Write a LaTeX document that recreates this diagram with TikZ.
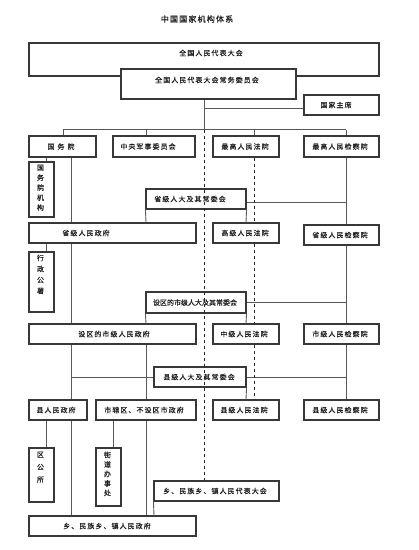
\documentclass[tikz,border=0pt]{standalone}
\usepackage{fontspec}
\newfontfamily\cjk[LetterSpace=15,FakeBold=0.3]{Noto Sans CJK SC}
\newfontfamily\cjkn[FakeBold=0.3]{Noto Sans CJK SC}
\newcommand\bx[5]{\node[box, minimum width={#4-#2}, minimum height={#5-#3}] (#1) at ({(#2+#4)/2},{(#3+#5)/2}) {};}
\begin{document}
\begin{tikzpicture}[x=1pt,y=-1pt,
  box/.style={draw=black!78, line width=1.1pt, inner sep=0pt, fill=white},
  txt/.style={font=\cjk\fontsize{7}{10}\selectfont, text=black!88, inner sep=0pt},
  tn/.style={font=\cjkn\fontsize{7}{10}\selectfont, text=black!88, inner sep=0pt},
  vt/.style={font=\cjkn\fontsize{7}{#1}\selectfont, text=black!88, inner sep=0pt, align=center, anchor=north},
  ln/.style={draw=black!65, line width=0.9pt},
  dl/.style={draw=black!85, line width=0.8pt, dash pattern=on 3pt off 3pt}]
\fill[white] (0,0) rectangle (419,550);
\useasboundingbox (0,0) rectangle (419,550);
% boxes
\bx{npc}{29}{43}{379}{76}
\bx{sc}{121}{69}{296}{99}
\bx{pres}{304}{95}{379}{115}
\bx{gwy}{29}{136}{96}{157}
\bx{cmc}{113}{136}{195}{157}
\bx{spc}{213}{136}{279}{157}
\bx{spp}{304}{136}{379}{157}
\bx{gwyjg}{29}{162}{54}{217}
\bx{sjrd}{146}{189}{246}{209}
\bx{sjzf}{29}{223}{196}{243}
\bx{gjfy}{213}{223}{279}{243}
\bx{sjjc}{304}{225}{379}{245}
\bx{xzgs}{29}{252}{54}{312}
\bx{sqrd}{146}{292}{246}{313}
\bx{sqzf}{29}{324}{196}{344}
\bx{zjfy}{213}{324}{279}{344}
\bx{shjc}{304}{324}{379}{344}
\bx{xjrd}{154}{367}{246}{387}
\bx{xzf}{29}{400}{87}{420}
\bx{sxq}{96}{400}{196}{420}
\bx{xjfy}{213}{400}{279}{420}
\bx{xjjc}{304}{400}{379}{420}
\bx{qgs}{29}{448}{54}{502}
\bx{jdb}{96}{448}{121}{506}
\bx{xzrd}{154}{481}{279}{501}
\bx{xzzf}{29}{516}{196}{536}
% texts
\node[txt, font=\cjk\fontsize{8}{10}\selectfont] (title) at (197,19) {中国国家机构体系};
\node[txt] (npct) at (211,53) {全国人民代表大会};
\node[txt] (sct) at (207,80) {全国人民代表大会常务委员会};
\node[txt] (prest) at (336,105) {国家主席};
\node[txt] (gwyt) at (61,146.5) {国\hspace{3pt}务\hspace{3pt}院};
\node[txt] (cmct) at (148,146.5) {中央军事委员会};
\node[txt] (spct) at (245,146.5) {最高人民法院};
\node[txt] (sppt) at (340,146.5) {最高人民检察院};
\node[txt] (sjrdt) at (190,199) {省级人大及其常委会};
\node[txt] (sjzft) at (86,233) {省级人民政府};
\node[txt] (gjfyt) at (245,233) {高级人民法院};
\node[txt] (sjjct) at (340,235) {省级人民检察院};
\node[tn] (sqrdt) at (195,302.5) {设区的市级人大及其常委会};
\node[txt] (sqzft) at (114,334) {设区的市级人民政府};
\node[txt] (zjfyt) at (244,334) {中级人民法院};
\node[txt] (shjct) at (340,334) {市级人民检察院};
\node[txt] (xjrdt) at (199,377) {县级人大及其常委会};
\node[txt] (xzft) at (56,410) {县人民政府};
\node[txt] (sxqt) at (144,410) {市辖区、不设区市政府};
\node[txt] (xjfyt) at (244,410) {县级人民法院};
\node[txt] (xjjct) at (340,410) {县级人民检察院};
\node[txt] (xzrdt) at (215,491) {乡、民族乡、镇人民代表大会};
\node[txt] (xzzft) at (107,526) {乡、民族乡、镇人民政府};
\node[vt=10] (gwyjgt) at (40.5,164.5) {国\\务\\院\\机\\构};
\node[vt=11] (xzgst) at (40.5,254.5) {行\\政\\公\\署};
\node[vt=12.5] (qgst) at (40.5,451.5) {区\\公\\所};
\node[vt=9.5] (jdbt) at (107.5,451.5) {街\\道\\办\\事\\处};
% column / row coordinates
\coordinate (c46) at (46,0);
\coordinate (c63) at (63,0);
\coordinate (c71) at (71,0);
\coordinate (c113) at (113,0);
\coordinate (c146) at (146,0);
\coordinate (c154) at (154,0);
\coordinate (c204) at (204,0);
\coordinate (c246) at (246,0);
\coordinate (c254) at (254,0);
\coordinate (c346) at (346,0);
\coordinate (bar) at (0,129.5);
\coordinate (pl) at (0,108);
\coordinate (r1) at (0,202);
\coordinate (r2) at (0,302);
% connectors
\draw[ln] (c63 |- bar) -- (c346 |- bar);
\draw[ln] (c63 |- bar) -- (c63 |- gwy.north);
\draw[ln] (c146 |- bar) -- (c146 |- cmc.north);
\draw[ln] (c254 |- bar) -- (c254 |- spc.north);
\draw[ln] (c346 |- bar) -- (c346 |- spp.north);
\draw[ln] (c204 |- sc.south) -- (c204 |- bar);
\draw[ln] (c204 |- pl) -- (pres.west |- pl);
\draw[ln] (c71 |- gwy.south) -- (c71 |- sjzf.north);
\draw[ln] (c71 |- sjzf.south) -- (c71 |- sqzf.north);
\draw[ln] (c71 |- sqzf.south) -- (c71 |- xzf.north);
\draw[ln] (c71 |- xzf.south) -- (c71 |- xzzf.north);
\draw[ln] (c46 |- gwy.south) -- (c46 |- gwyjg.north);
\draw[ln] (c46 |- sjzf.south) -- (c46 |- xzgs.north);
\draw[ln] (c46 |- xzf.south) -- (c46 |- qgs.north);
\draw[ln] (c113 |- sxq.south) -- (c113 |- jdb.north);
\draw[ln] (sjrd.south west) -- (c146 |- sjzf.north);
\draw[ln] (sqrd.south west) -- (c146 |- sqzf.north);
\draw[ln] (c146 |- sqzf.south) -- (c146 |- sxq.north);
\draw[ln] (c146 |- sxq.south) -- (c146 |- xzzf.north);
\draw[ln] (sjrd.south east) -- (c246 |- gjfy.north);
\draw[ln] (sqrd.south east) -- (c246 |- zjfy.north);
\draw[ln] (xjrd.south east) -- (c246 |- xjfy.north);
\draw[ln] (c346 |- spp.south) -- (c346 |- sjjc.north);
\draw[ln] (c346 |- sjjc.south) -- (c346 |- shjc.north);
\draw[ln] (c346 |- shjc.south) -- (c346 |- xjjc.north);
\draw[ln] (sjrd.east |- r1) -- (c346 |- r1);
\draw[ln] (sqrd.east |- r2) -- (c346 |- r2);
\draw[ln] (c71 |- xjrd.west) -- (xjrd.west);
\draw[ln] (xjrd.east) -- (c346 |- xjrd.east);
\draw[ln] (xzrd.south west) -- (c154 |- xzzf.north);
% dashed
\draw[dl] (c204 |- bar) -- (c204 |- xzrd.north);
\draw[dl] (c254 |- spc.south) -- (c254 |- gjfy.north);
\draw[dl] (c254 |- gjfy.south) -- (c254 |- zjfy.north);
\draw[dl] (c254 |- zjfy.south) -- (c254 |- xjfy.north);
\end{tikzpicture}
\end{document}
